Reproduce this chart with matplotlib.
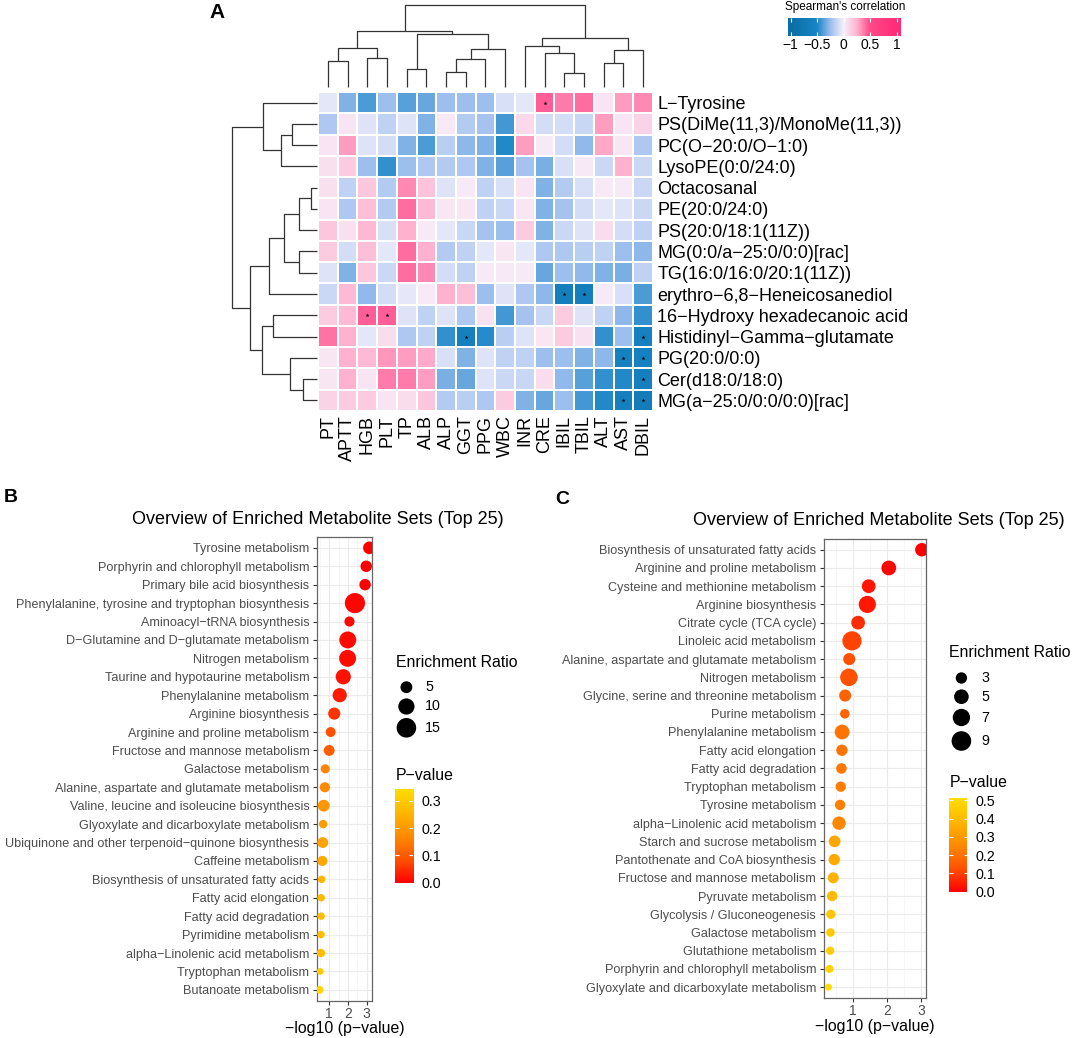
import numpy as np
import matplotlib
matplotlib.use("Agg")
import matplotlib.pyplot as plt
import matplotlib as mpl
from matplotlib.colors import LinearSegmentedColormap, Normalize

mpl.rcParams['font.family'] = ['Liberation Sans', 'DejaVu Sans']

# ---------------- panel A: correlation heatmap ----------------
lab_cols = ["PT", "APTT", "HGB", "PLT", "TP", "ALB", "ALP", "GGT", "PPG",
            "WBC", "INR", "CRE", "IBIL", "TBIL", "ALT", "AST", "DBIL"]
metab_rows = ["L−Tyrosine", "PS(DiMe(11,3)/MonoMe(11,3))", "PC(O−20:0/O−1:0)",
              "LysoPE(0:0/24:0)", "Octacosanal", "PE(20:0/24:0)",
              "PS(20:0/18:1(11Z))", "MG(0:0/a−25:0/0:0)[rac]",
              "TG(16:0/16:0/20:1(11Z))", "erythro−6,8−Heneicosanediol",
              "16−Hydroxy hexadecanoic acid", "Histidinyl−Gamma−glutamate",
              "PG(20:0/0:0)", "Cer(d18:0/18:0)", "MG(a−25:0/0:0/0:0)[rac]"]

rho = np.array([
    [-0.05, -0.30, -0.40, -0.25, -0.38, -0.35, -0.25, -0.25, -0.25, -0.08, -0.05, 0.45, 0.38, 0.42, 0.05, 0.30, 0.35],
    [-0.20, 0.05, -0.07, -0.15, -0.07, -0.30, 0.03, -0.18, -0.22, -0.42, 0.10, -0.10, -0.10, -0.13, 0.30, 0.05, 0.12],
    [0.05, 0.30, -0.07, -0.10, -0.30, -0.40, -0.17, -0.28, -0.30, -0.48, 0.30, 0.03, -0.10, -0.27, 0.28, 0.04, -0.20],
    [0.07, 0.15, -0.25, -0.45, -0.25, -0.20, -0.18, -0.20, -0.30, -0.38, -0.22, -0.32, -0.08, 0.03, -0.12, 0.25, -0.12],
    [0.07, -0.15, 0.17, -0.18, 0.35, 0.18, -0.07, 0.03, -0.15, -0.08, 0.05, -0.30, -0.18, -0.08, 0.03, 0.03, -0.12],
    [0.05, -0.20, 0.20, -0.18, 0.42, 0.22, 0.04, 0.04, -0.15, -0.12, 0.04, -0.30, -0.22, -0.10, -0.05, -0.07, -0.12],
    [0.17, 0.07, 0.23, -0.08, 0.25, 0.03, -0.05, -0.13, -0.22, -0.25, 0.15, -0.30, -0.12, -0.07, 0.08, -0.10, -0.15],
    [0.15, -0.10, 0.20, -0.05, 0.42, 0.25, -0.18, -0.15, -0.05, 0.04, -0.05, -0.20, -0.20, -0.17, -0.15, -0.25, -0.28],
    [-0.07, -0.30, 0.17, -0.12, 0.42, 0.35, -0.10, -0.15, 0.03, 0.03, 0.03, -0.35, -0.25, -0.27, -0.30, -0.32, -0.15],
    [-0.12, 0.22, -0.27, -0.10, -0.04, 0.03, 0.25, 0.20, -0.25, -0.07, -0.20, -0.28, -0.62, -0.62, 0.03, -0.08, -0.40],
    [0.15, 0.22, 0.45, 0.45, -0.07, -0.15, -0.07, -0.20, 0.06, -0.42, -0.22, -0.13, 0.15, -0.07, -0.15, -0.28, -0.45],
    [0.40, 0.25, -0.05, 0.08, -0.20, -0.15, -0.45, -0.60, -0.47, -0.17, -0.07, 0.04, 0.15, 0.06, -0.45, -0.25, -0.60],
    [0.04, 0.25, 0.22, 0.32, 0.30, 0.27, -0.08, -0.30, -0.07, -0.15, -0.15, -0.25, -0.25, -0.30, -0.28, -0.58, -0.58],
    [0.04, 0.25, 0.05, 0.38, 0.38, 0.30, -0.32, -0.35, -0.07, -0.12, -0.13, 0.08, -0.27, -0.38, -0.45, -0.48, -0.60],
    [0.12, 0.15, 0.15, 0.05, 0.08, 0.17, -0.18, -0.17, -0.20, 0.15, -0.30, -0.35, -0.25, -0.42, -0.48, -0.60, -0.68],
])

# (row, col) of significant cells
sig_cells = [(0, 11), (9, 12), (9, 13), (10, 2), (10, 3), (11, 7), (11, 16),
             (12, 15), (12, 16), (13, 16), (14, 15), (14, 16)]

# merge trees: (left id, right id, relative height); ids >= n are earlier merges
col_merges = [(0, 1, 0.324), (2, 3, 0.360), (17, 18, 0.474), (4, 5, 0.223),
              (6, 7, 0.190), (21, 8, 0.340), (22, 9, 0.466), (20, 23, 0.652),
              (19, 24, 0.688), (12, 13, 0.170), (11, 26, 0.413), (10, 27, 0.502),
              (14, 15, 0.300), (29, 16, 0.453), (28, 30, 0.595), (25, 31, 1.0)]
row_merges = [(1, 2, 0.296), (15, 3, 0.423), (0, 16, 0.640), (4, 5, 0.068),
              (18, 6, 0.210), (7, 8, 0.210), (19, 20, 0.384), (21, 9, 0.565),
              (10, 11, 0.514), (13, 14, 0.162), (12, 24, 0.316), (23, 25, 0.648),
              (22, 26, 0.790), (17, 27, 1.0)]

# ---------------- panel B ----------------
b_sets = ["Tyrosine metabolism", "Porphyrin and chlorophyll metabolism",
          "Primary bile acid biosynthesis",
          "Phenylalanine, tyrosine and tryptophan biosynthesis",
          "Aminoacyl−tRNA biosynthesis", "D−Glutamine and D−glutamate metabolism",
          "Nitrogen metabolism", "Taurine and hypotaurine metabolism",
          "Phenylalanine metabolism", "Arginine biosynthesis",
          "Arginine and proline metabolism", "Fructose and mannose metabolism",
          "Galactose metabolism", "Alanine, aspartate and glutamate metabolism",
          "Valine, leucine and isoleucine biosynthesis",
          "Glyoxylate and dicarboxylate metabolism",
          "Ubiquinone and other terpenoid−quinone biosynthesis",
          "Caffeine metabolism", "Biosynthesis of unsaturated fatty acids",
          "Fatty acid elongation", "Fatty acid degradation",
          "Pyrimidine metabolism", "alpha−Linolenic acid metabolism",
          "Tryptophan metabolism", "Butanoate metabolism"]
b_logp = [3.14, 2.97, 2.91, 2.37, 2.08, 1.99, 1.98, 1.75, 1.56, 1.27, 1.08, 1.00,
          0.79, 0.77, 0.71, 0.68, 0.66, 0.64, 0.60, 0.575, 0.57, 0.565, 0.56,
          0.52, 0.49]
b_ratio = [5.8, 4.6, 4.6, 16.0, 3.5, 11.0, 11.0, 8.7, 7.5, 5.3, 3.3, 4.1, 2.7,
           3.5, 5.0, 2.3, 4.1, 3.5, 1.7, 1.7, 1.7, 1.7, 2.3, 1.3, 1.9]
b_size_breaks = [5, 10, 15]
b_p_breaks = [0.0, 0.1, 0.2, 0.3]

# ---------------- panel C ----------------
c_sets = ["Biosynthesis of unsaturated fatty acids", "Arginine and proline metabolism",
          "Cysteine and methionine metabolism", "Arginine biosynthesis",
          "Citrate cycle (TCA cycle)", "Linoleic acid metabolism",
          "Alanine, aspartate and glutamate metabolism", "Nitrogen metabolism",
          "Glycine, serine and threonine metabolism", "Purine metabolism",
          "Phenylalanine metabolism", "Fatty acid elongation",
          "Fatty acid degradation", "Tryptophan metabolism", "Tyrosine metabolism",
          "alpha−Linolenic acid metabolism", "Starch and sucrose metabolism",
          "Pantothenate and CoA biosynthesis", "Fructose and mannose metabolism",
          "Pyruvate metabolism", "Glycolysis / Gluconeogenesis",
          "Galactose metabolism", "Glutathione metabolism",
          "Porphyrin and chlorophyll metabolism",
          "Glyoxylate and dicarboxylate metabolism"]
c_logp = [3.03, 2.06, 1.47, 1.43, 1.16, 0.98, 0.90, 0.89, 0.78, 0.77, 0.69, 0.685,
          0.67, 0.65, 0.63, 0.60, 0.47, 0.46, 0.43, 0.40, 0.36, 0.35, 0.34, 0.32, 0.29]
c_ratio = [4.2, 5.1, 4.4, 6.9, 4.4, 8.7, 3.4, 7.2, 3.4, 2.1, 5.1, 3.0, 2.6, 2.5,
           2.5, 4.2, 3.2, 3.0, 2.8, 2.5, 2.0, 1.7, 1.6, 1.5, 1.1]
c_size_breaks = [3, 5, 7, 9]
c_p_breaks = [0.0, 0.1, 0.2, 0.3, 0.4, 0.5]

# ---------------- figure ----------------
W, H = 1072, 1038
fig = plt.figure(figsize=(W / 100, H / 100), dpi=100)


def px_axes(x0, y0, x1, y1):
    return fig.add_axes([x0 / W, 1 - y1 / H, (x1 - x0) / W, (y1 - y0) / H])


def dendro_segments(merges, n):
    pos = {i: (i + 0.5, 0.0) for i in range(n)}
    segs = []
    for k, (a, b, h) in enumerate(merges):
        xa, ha = pos[a]
        xb, hb = pos[b]
        segs.append(([xa, xa, xb, xb], [ha, h, h, hb]))
        pos[n + k] = ((xa + xb) / 2, h)
    return segs


heat_cmap = LinearSegmentedColormap.from_list("spear", [
    (0.0, "#0A6EA4"), (0.25, "#1985C6"), (0.375, "#9CBEEE"),
    (0.5, "#F6F1FB"), (0.625, "#FFB3CF"), (0.75, "#FF4A88"), (1.0, "#FF2C77")])

nr, nc = rho.shape
axh = px_axes(318, 92, 653, 411)
axh.pcolormesh(np.arange(nc + 1), np.arange(nr + 1), rho, cmap=heat_cmap,
               vmin=-1, vmax=1, edgecolors="white", linewidth=1.2)
axh.set_xlim(0, nc)
axh.set_ylim(nr, 0)
sr = [r + 0.5 for r, c in sig_cells]
sc = [c + 0.5 for r, c in sig_cells]
axh.scatter(sc, sr, marker="*", s=9, color="black", linewidths=0)
axh.set_xticks(np.arange(nc) + 0.5)
axh.set_xticklabels(lab_cols, rotation=90, fontsize=13)
axh.set_yticks(np.arange(nr) + 0.5)
axh.set_yticklabels(metab_rows, fontsize=13)
axh.yaxis.tick_right()
axh.tick_params(length=0, pad=3)
for s in axh.spines.values():
    s.set_visible(False)

# column dendrogram
axt = px_axes(318, 5, 653, 87.3)
for xs, ys in dendro_segments(col_merges, nc):
    axt.plot(xs, ys, color="#333333", lw=0.9, clip_on=False, solid_capstyle="butt")
axt.set_xlim(0, nc)
axt.set_ylim(0, 1)
axt.axis("off")

# row dendrogram
axl = px_axes(232.3, 92, 316.7, 411)
for xs, ys in dendro_segments(row_merges, nr):
    axl.plot(ys, xs, color="#333333", lw=0.9, clip_on=False, solid_capstyle="butt")
axl.set_ylim(nr, 0)
axl.set_xlim(1, 0)
axl.axis("off")

# heatmap colour key
cb_lo, cb_hi = -1.045, 1.08
axk = px_axes(788.3, 18.3, 901, 35.7)
axk.imshow(np.linspace(cb_lo, cb_hi, 400)[None, :], extent=(cb_lo, cb_hi, 0, 1),
           aspect="auto", cmap=heat_cmap, vmin=-1, vmax=1)
key_ticks = [-1, -0.5, 0, 0.5, 1]
axk.vlines(key_ticks, 0.78, 1, color="white", lw=0.8)
axk.vlines(key_ticks, 0, 0.22, color="white", lw=0.8)
axk.set_xlim(cb_lo, cb_hi)
axk.set_ylim(0, 1)
axk.set_xticks(key_ticks)
axk.set_xticklabels(["−1", "−0.5", "0", "0.5", "1"], fontsize=10)
axk.set_yticks([])
axk.tick_params(length=0, pad=2)
for s in axk.spines.values():
    s.set_visible(False)
fig.text(785 / W, 1 - 7 / H, "Spearman's correlation", fontsize=8.5,
         ha="left", va="center")
fig.text(209 / W, 1 - 13 / H, "A", fontsize=15, weight="bold", ha="left", va="center")

# ---------------- enrichment panels ----------------
p_cmap = LinearSegmentedColormap.from_list("pval", [
    (0.0, "#FF0000"), (0.25, "#FF5200"), (0.5, "#FF8A00"),
    (0.75, "#FFB700"), (1.0, "#FFDD00")])

ov = fig.add_axes([0, 0, 1, 1])
ov.set_xlim(0, W)
ov.set_ylim(H, 0)
ov.axis("off")


def d_to_s(d_px):
    return (np.asarray(d_px) * 0.72) ** 2


def enrich_panel(box, sets, logp, ratio, size_fn, pmax):
    ax = px_axes(*box)
    n = len(sets)
    y = np.arange(n)
    pv = 10 ** (-np.asarray(logp))
    norm = Normalize(0, pmax)
    ax.scatter(logp, y, s=d_to_s(size_fn(np.asarray(ratio))), c=pv, cmap=p_cmap,
               norm=norm, linewidths=0, zorder=3)
    lo, hi = min(logp), max(logp)
    pad = 0.05 * (hi - lo)
    ax.set_xlim(lo - pad, hi + pad)
    ax.set_ylim(n - 1 + 0.6, -0.6)
    ax.set_yticks(y)
    ax.set_yticklabels(sets, fontsize=9.1, color="#4D4D4D")
    ax.set_xticks([1, 2, 3])
    ax.set_xticklabels(["1", "2", "3"], fontsize=10, color="#4D4D4D")
    ax.set_xticks([0.5, 1.5, 2.5], minor=True)
    ax.tick_params(axis="both", which="major", length=3.2, width=0.8,
                   color="#333333", pad=2.4)
    ax.tick_params(axis="x", which="major", pad=1)
    ax.tick_params(axis="x", which="minor", length=0)
    ax.grid(True, which="major", color="#EBEBEB", lw=0.8)
    ax.grid(True, which="minor", axis="x", color="#F4F4F4", lw=0.5)
    ax.set_axisbelow(True)
    for s in ax.spines.values():
        s.set_color("#666666")
        s.set_linewidth(0.9)
    return ax


def b_size(r):
    return 1.35 + 4.7 * np.sqrt(r)


def c_size(r):
    return 0.1 + 6.5 * np.sqrt(r)


b_pmax = 0.343
c_pmax = 0.515
enrich_panel((317.1, 536.8, 371.9, 1000.9), b_sets, b_logp, b_ratio, b_size, b_pmax)
enrich_panel((823.8, 538.8, 926.5, 998.1), c_sets, c_logp, c_ratio, c_size, c_pmax)

xlab = "−log10 (p−value)"
fig.text(344.5 / W, 1 - 1028 / H, xlab, fontsize=11.4, ha="center", va="center")
fig.text(875 / W, 1 - 1026.5 / H, xlab, fontsize=11.4, ha="center", va="center")

title = "Overview of Enriched Metabolite Sets (Top 25)"
fig.text(318 / W, 1 - 519 / H, title, fontsize=13, ha="center", va="center")
fig.text(878.5 / W, 1 - 520.4 / H, title, fontsize=13, ha="center", va="center")
fig.text(4 / W, 1 - 498 / H, "B", fontsize=14, weight="bold", ha="left", va="center")
fig.text(555 / W, 1 - 499 / H, "C", fontsize=14, weight="bold", ha="left", va="center")


def size_legend(x_title, y_title, x_key, x_lab, ys, breaks, size_fn):
    ov.text(x_title, y_title, "Enrichment Ratio", fontsize=11.4, ha="left", va="center")
    ov.scatter([x_key] * len(breaks), ys, s=d_to_s(size_fn(np.asarray(breaks, float))),
               color="black", linewidths=0)
    for yy, b in zip(ys, breaks):
        ov.text(x_lab, yy, str(b), fontsize=10.3, ha="left", va="center")


def p_legend(x_title, y_title, box, breaks, pmax):
    ov.text(x_title, y_title, "P−value", fontsize=11.4, ha="left", va="center")
    axc = px_axes(*box)
    axc.imshow(np.linspace(0, pmax, 300)[:, None], extent=(0, 1, 0, pmax),
               origin="lower", aspect="auto", cmap=p_cmap, vmin=0, vmax=pmax)
    axc.hlines(breaks, 0, 0.2, color="white", lw=0.8)
    axc.hlines(breaks, 0.8, 1, color="white", lw=0.8)
    axc.set_xlim(0, 1)
    axc.set_ylim(0, pmax)
    axc.set_xticks([])
    axc.yaxis.tick_right()
    axc.set_yticks(breaks)
    axc.set_yticklabels(["%.1f" % b for b in breaks], fontsize=10.3)
    axc.tick_params(length=0, pad=6)
    for s in axc.spines.values():
        s.set_visible(False)


size_legend(395.5, 662.6, 406.4, 425.3, [687.2, 706.5, 727.8], b_size_breaks, b_size)
p_legend(395.5, 775, (394.9, 789.3, 413.1, 882.6), b_p_breaks, b_pmax)
size_legend(949.3, 652.8, 961.4, 981, [678, 696.7, 717.5, 741], c_size_breaks, c_size)
p_legend(949.3, 782.8, (949.3, 797.7, 967.3, 891.7), c_p_breaks, c_pmax)

fig.savefig("out.png", dpi=100)
